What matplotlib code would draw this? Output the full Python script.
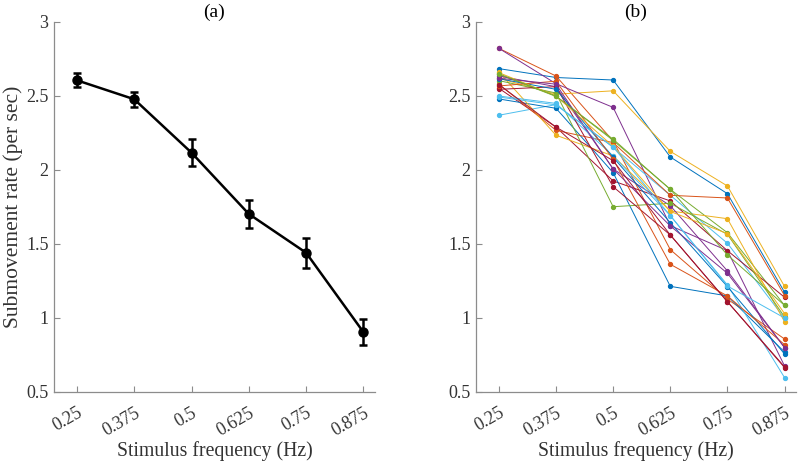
import matplotlib.pyplot as plt
import matplotlib.transforms as mtransforms

plt.rcParams['font.family'] = ['Liberation Serif', 'DejaVu Serif']

freqs = [0.25, 0.375, 0.5, 0.625, 0.75, 0.875]
tick_labels = ["0.25", "0.375", "0.5", "0.625", "0.75", "0.875"]

# panel (a): group mean and error bars
mean_rate = [2.606, 2.478, 2.117, 1.703, 1.441, 0.905]
err_rate = [0.047, 0.050, 0.092, 0.093, 0.100, 0.087]

# panel (b): one line per participant
subjects = [
    [2.685, 2.625, 2.608, 2.088, 1.840, 1.174],
    [2.822, 2.635, 2.196, 1.462, 1.128, 0.858],
    [2.620, 2.512, 2.535, 2.126, 1.892, 1.213],
    [2.822, 2.583, 2.423, 1.624, 1.455, 0.676],
    [2.646, 2.497, 2.208, 1.869, 1.576, 1.085],
    [2.370, 2.442, 2.153, 1.829, 1.505, 0.997],
    [2.552, 2.290, 1.926, 1.791, 1.455, 1.140],
    [2.480, 2.417, 1.982, 1.214, 1.149, 0.770],
    [2.580, 2.268, 2.185, 1.829, 1.811, 1.152],
    [2.662, 2.235, 2.095, 1.723, 1.671, 0.975],
    [2.635, 2.563, 2.007, 1.759, 1.318, 0.800],
    [2.604, 2.520, 1.752, 1.775, 1.565, 1.007],
    [2.500, 2.450, 2.095, 1.692, 1.223, 0.597],
    [2.545, 2.563, 1.887, 1.561, 1.110, 0.665],
    [2.617, 2.545, 2.086, 1.644, 1.212, 0.757],
    [2.568, 2.600, 2.072, 1.363, 1.149, 0.820],
    [2.658, 2.500, 2.160, 1.720, 1.570, 1.030],
    [2.620, 2.580, 2.007, 1.622, 1.302, 0.800],
    [2.650, 2.500, 2.200, 1.870, 1.426, 1.085],
    [2.493, 2.440, 2.155, 1.692, 1.216, 1.000],
    [2.577, 2.290, 2.063, 1.561, 1.110, 0.670],
]

matlab_colors = ["#0072BD", "#D95319", "#EDB120", "#7E2F8E",
                 "#77AC30", "#4DBEEE", "#A2142F"]

fig = plt.figure(figsize=(7.98, 4.66), dpi=100)
ax_a = fig.add_axes([0.0677, 0.1588, 0.402, 0.794])
ax_b = fig.add_axes([0.5965, 0.1588, 0.401, 0.794])

ax_a.errorbar(freqs, mean_rate, yerr=err_rate, color="black", linewidth=1.8,
              marker="o", markersize=6.5, capsize=2.6, capthick=1.8, elinewidth=1.8)

for i, vals in enumerate(subjects):
    c = matlab_colors[i % len(matlab_colors)]
    ax_b.plot(freqs, vals, color=c, linewidth=0.7, marker="o", markersize=2.8)

# shift rotated tick labels a little to the right, like MATLAB does
shift = mtransforms.ScaledTranslation(4 / 100, 0, fig.dpi_scale_trans)

for ax, title in [(ax_a, "(a)"), (ax_b, "(b)")]:
    ax.set_xlim(0.2, 0.9)
    ax.set_ylim(0.5, 3)
    ax.set_xticks(freqs)
    ax.set_xticklabels(tick_labels, rotation=30, ha="right", va="top",
                       rotation_mode="anchor")
    for lab in ax.get_xticklabels():
        lab.set_transform(lab.get_transform() + shift)
    ax.set_yticks([0.5, 1, 1.5, 2, 2.5, 3])
    ax.set_yticklabels(["0.5", "1", "1.5", "2", "2.5", "3"])
    ax.tick_params(direction="in", length=4, width=0.8, color="0.55",
                   labelcolor="0.2", labelsize=13)
    ax.tick_params(axis="x", pad=9)
    ax.tick_params(axis="y", pad=4)
    for s in ["top", "right"]:
        ax.spines[s].set_visible(False)
    for s in ["left", "bottom"]:
        ax.spines[s].set_color("0.55")
        ax.spines[s].set_linewidth(0.9)
    ax.set_title(title, fontsize=14, color="black", pad=4)
    ax.set_xlabel("Stimulus frequency (Hz)", fontsize=14.2, color="0.2", labelpad=1)

ax_a.set_ylabel("Submovement rate (per sec)", fontsize=15.5, color="0.2", labelpad=2)

plt.savefig("out.png", dpi=100)
